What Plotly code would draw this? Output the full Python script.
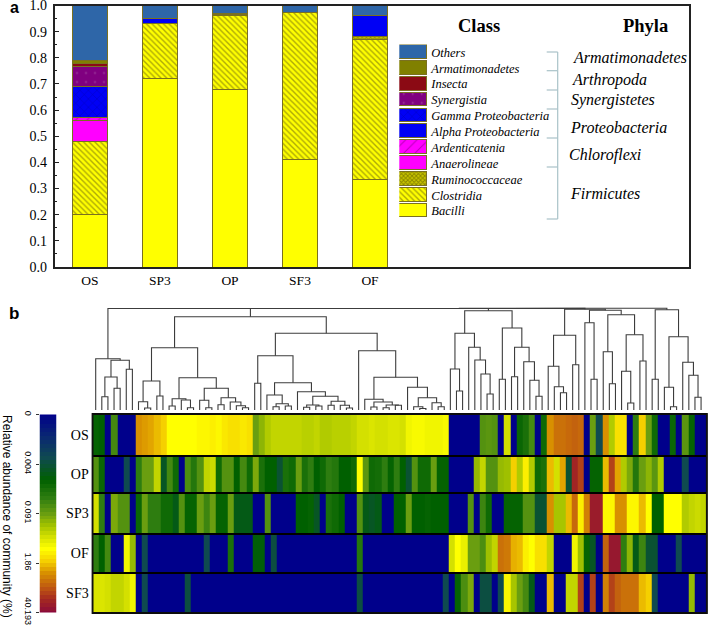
import plotly.graph_objects as go

W, H = 709, 626
SERIF = "Liberation Serif"
SANS = "Liberation Sans"

# ---------- panel a ----------
samples = ["OS", "SP3", "OP", "SF3", "OF"]
classes = ["Bacilli", "Clostridia", "Ruminococcaceae", "Anaerolineae", "Ardenticatenia",
           "Alpha Proteobacteria", "Gamma Proteobacteria", "Synergistia", "Insecta",
           "Armatimonadetes", "Others"]
bacilli = [0.20, 0.72, 0.68, 0.41, 0.333]
clostridia = [0.28, 0.21, 0.28, 0.562, 0.537]
ruminococcaceae = [0, 0, 0, 0, 0.01]
anaerolineae = [0.08, 0, 0, 0, 0]
ardenticatenia = [0.01, 0, 0, 0, 0]
alpha_proteo = [0, 0.02, 0.005, 0.002, 0.08]
gamma_proteo = [0.12, 0, 0.005, 0, 0]
synergistia = [0.075, 0, 0, 0, 0]
insecta = [0.015, 0, 0, 0, 0]
armatimonadetes = [0.01, 0, 0, 0, 0]
others = [0.21, 0.05, 0.03, 0.026, 0.04]
class_values = [bacilli, clostridia, ruminococcaceae, anaerolineae, ardenticatenia,
                alpha_proteo, gamma_proteo, synergistia, insecta, armatimonadetes, others]
class_colors = ["#ffff00", "#ffff00", "#c8c400", "#ff00ff", "#ff00ff", "#0000f5", "#0000f5",
                "#800080", "#8b0a14", "#808000", "#2e66a8"]
class_patterns = ["", "\\", "x", "", "/", "", "x", ".", "", "", ""]
pattern_fg = ["#000000", "#5c5410", "#4a4600", "#000000", "#700070", "#000000", "#00008a",
              "#c080c0", "#000000", "#000000", "#000000"]
pattern_size = [6, 4, 3, 6, 8, 6, 6, 9, 6, 6, 6]
pattern_solid = [0.2, 0.35, 0.5, 0.2, 0.12, 0.2, 0.15, 0.03, 0.2, 0.2, 0.2]
y_tick_values = [0.0, 0.1, 0.2, 0.3, 0.4, 0.5, 0.6, 0.7, 0.8, 0.9, 1.0]
phyla = ["Armatimonadetes", "Arthropoda", "Synergistetes", "Proteobacteria", "Chloroflexi", "Firmicutes"]

# ---------- panel b ----------
heat_rows = ["OS", "OP", "SP3", "OF", "SF3"]
row_edges = [0, 41.7, 79, 119.7, 159.3, 199]
os_row = [34, 33, 0, 45, 0, 0, 0, 80, 79, 78, 76, 74, 68, 68, 68, 68, 68, 69, 69, 70,
          69, 71, 72, 72, 71, 72, 50, 54, 58, 60, 60, 60, 60, 60, 59, 59, 60, 58, 58, 59,
          59, 59, 60, 62, 62, 63, 62, 62, 63, 63, 62, 66, 67, 67, 66, 66, 66, 67, 0, 0,
          0, 0, 0, 47, 48, 47, 0, 62, 0, 35, 38, 45, 0, 36, 80, 84, 84, 85, 86, 85,
          0, 50, 22, 80, 58, 72, 72, 0, 42, 74, 50, 36, 0, 0, 35, 0, 48, 34, 0, 0]
op_row = [47, 35, 0, 0, 0, 22, 0, 42, 50, 50, 60, 28, 45, 36, 0, 46, 40, 47, 60, 61,
          36, 47, 47, 33, 45, 36, 52, 38, 33, 33, 26, 38, 36, 50, 38, 42, 33, 36, 42, 40,
          33, 33, 36, 68, 48, 36, 37, 42, 34, 42, 33, 26, 47, 36, 36, 50, 34, 34, 0, 0,
          0, 0, 55, 60, 47, 47, 55, 56, 74, 58, 70, 58, 36, 38, 76, 62, 78, 26, 94, 90,
          0, 34, 34, 76, 90, 78, 58, 52, 40, 50, 54, 48, 58, 0, 0, 0, 22, 0, 0, 0]
sp3_row = [62, 42, 0, 52, 47, 47, 0, 35, 50, 42, 42, 36, 36, 30, 47, 34, 34, 50, 44, 50,
           34, 34, 50, 30, 30, 30, 0, 0, 47, 0, 0, 0, 0, 33, 33, 34, 28, 0, 38, 36,
           33, 0, 0, 47, 30, 28, 30, 0, 0, 33, 33, 50, 33, 33, 34, 33, 33, 33, 0, 0,
           0, 47, 0, 44, 36, 0, 0, 34, 34, 34, 47, 47, 26, 26, 80, 57, 57, 76, 85, 70,
           82, 96, 96, 69, 69, 80, 80, 69, 69, 76, 68, 33, 33, 68, 68, 68, 58, 60, 61, 60]
of_row = [42, 33, 45, 0, 0, 66, 55, 0, 22, 0, 0, 0, 0, 0, 0, 0, 0, 0, 22, 0,
          0, 0, 38, 0, 0, 0, 32, 32, 0, 24, 0, 0, 0, 0, 0, 0, 0, 0, 0, 0,
          0, 0, 0, 40, 0, 0, 0, 0, 0, 0, 0, 0, 0, 0, 0, 0, 0, 0, 62, 68,
          65, 50, 50, 46, 56, 60, 84, 83, 77, 76, 70, 68, 72, 72, 60, 0, 0, 0, 66, 56,
          34, 28, 0, 86, 97, 97, 42, 54, 30, 44, 26, 26, 0, 0, 0, 22, 0, 0, 0, 0]
sf3_row = [63, 63, 62, 60, 60, 62, 66, 0, 22, 0, 0, 0, 0, 0, 0, 24, 0, 0, 0, 0,
           0, 0, 0, 0, 0, 0, 0, 0, 0, 0, 0, 0, 0, 0, 0, 0, 0, 0, 0, 0,
           0, 0, 0, 24, 0, 0, 0, 0, 0, 0, 0, 0, 0, 0, 0, 0, 0, 22, 0, 34,
           46, 52, 0, 24, 24, 0, 22, 69, 57, 50, 45, 30, 0, 0, 76, 0, 0, 60, 60, 90,
           0, 90, 0, 82, 90, 86, 84, 84, 84, 76, 74, 22, 0, 0, 0, 0, 0, 55, 0, 0]
heat_values = [os_row, op_row, sp3_row, of_row, sf3_row]

scale_stops = [0, 12, 22, 33, 42, 50, 56, 62, 68, 74, 80, 87, 93, 100]
scale_colors = ["#00008b", "#0a2a70", "#0f4a50", "#006000", "#2e7d10", "#6a9e10", "#9fc000",
                "#d4e000", "#ffff00", "#f5d000", "#d89000", "#c05a10", "#a52a20", "#8b0a3a"]
colorscale = [[s / 100, c] for s, c in zip(scale_stops, scale_colors)]
scale_levels = [0, 2, 4, 6, 8, 10, 12, 14, 16, 18, 20, 22, 24, 26, 28, 30, 32, 34, 36, 38, 40, 42, 44, 46, 48,
                50, 52, 54, 56, 58, 60, 62, 64, 66, 68, 70, 72, 74, 76, 78, 80, 82, 84, 86, 88, 90, 92, 94, 96, 98, 100]
scale_tick_levels = [0, 25, 50, 75, 100]
scale_tick_text = ["0", "0.004", "0.091", "1.86", "40.193"]

# dendrogram: (merge height, left, right); o is a leaf
o = None
clade_a = (51.3, o, (49.7, (33, (13.3, o, o), (21.7, o, o)), (40.7, o, o)))
clade_b = (62.3,
           (29, (8.3, o, (2, o, o)), (14, o, o)),
           (32.3,
            (11.3, (4, o, o), (10, o, (2.3, o, o))),
            (21.7, (9.7, o, (2.3, o, o)),
             (12.3, (5.3, o, o), (8, o, (4.3, o, (2.3, o, o)))))))
clade_c = (54.3, (26.7, o, o),
           (27.3,
            (15, o, (6.3, (3.3, o, o), (4, o, o))),
            (18.3, o, (13.7, (5, (2.7, o, o), (4, o, o)),
                       (8.7, (4.7, o, o), (4.7, o, (2, o, o)))))))
clade_d = (59.3, o,
           (32.7,
            (10.7, o, (8, (3, o, o), (5, (2.3, o, o), (4.7, o, o)))),
            (22.7, o, (12.3, (3.3, o, (1.5, o, o)), (7.3, o, (3.3, o, o))))))
clade_main = (93.3, clade_b, (76.7, clade_c, clade_d))
clade_e = (99.3,
           (76.7, (41, o, (19, o, o)), (62.7, o, (50, o, (36, o, (16, o, o))))),
           (82, (30.7, o, o), (62.7, (33.3, o, o), (48.3, o, (29.7, o, (13.7, o, o))))))
clade_f = (74.7, (43.7, o, (23.3, o, (17.3, o, o))), (45.3, o, o))
clade_g = (87.3, o, (30.7, o, o))
clade_h = (95.3, (58.3, o, (26.3, o, o)),
           (75.3, (38.7, o, (7, o, o)), (49, o, o)))
clade_i = (100.3, (30.7, o, o),
           (73.3, (22.7, o, (3.3, o, o)), (47.7, o, (34.7, o, (12.7, o, o)))))
dendrogram = (101.8,
              (101.6, (101.5, (101.5, clade_a, clade_main), clade_e),
               (100.7, clade_f, (99.7, clade_g, clade_h))),
              clade_i)

dx_lines, dy_lines = [], []
leaf_counter = [0]


def walk(node):
    if node is None:
        pos = leaf_counter[0]
        leaf_counter[0] += 1
        return pos, 0
    h, left, right = node
    lx, lh = walk(left)
    rx, rh = walk(right)
    dx_lines.extend([lx, lx, rx, rx, None])
    dy_lines.extend([lh, h, h, rh, None])
    return (lx + rx) / 2, h


walk(dendrogram)


def hdom(a, b):
    return [a / W, b / W]


def vdom(top, bottom):
    return [1 - bottom / H, 1 - top / H]


fig = go.Figure()

# stacked bars
for name, vals, col, pat, fg, sz, sol in zip(classes, class_values, class_colors, class_patterns,
                                             pattern_fg, pattern_size, pattern_solid):
    fig.add_trace(go.Bar(x=samples, y=vals, name=name, width=0.507, showlegend=False,
                         marker=dict(color=col, line=dict(color="#7a7020", width=1),
                                     pattern=dict(shape=pat, fgcolor=fg, size=sz, solidity=sol,
                                                  bgcolor=col)),
                         xaxis="x", yaxis="y"))

# legend swatches, drawn as one-row bars with the class names as tick labels
for name, col, pat, fg, sz, sol in zip(classes, class_colors, class_patterns, pattern_fg,
                                       pattern_size, pattern_solid):
    fig.add_trace(go.Bar(x=[1], y=[name], orientation="h", width=0.86, showlegend=False,
                         marker=dict(color=col, line=dict(color="#7a7020", width=1),
                                     pattern=dict(shape=pat, fgcolor=fg, size=sz, solidity=sol,
                                                  bgcolor=col)),
                         xaxis="x2", yaxis="y2"))

# dendrogram
fig.add_trace(go.Scatter(x=dx_lines, y=dy_lines, mode="lines", showlegend=False,
                         line=dict(color="#3c3c3c", width=1.1), xaxis="x3", yaxis="y3"))

# heatmap
fig.add_trace(go.Heatmap(z=heat_values, y=row_edges, colorscale=colorscale, zmin=0, zmax=100,
                         showscale=False, ygap=2, xaxis="x4", yaxis="y4"))

# colour scale
fig.add_trace(go.Heatmap(z=[[v] for v in scale_levels], y=scale_levels, colorscale=colorscale,
                         zmin=0, zmax=100, showscale=False, xaxis="x5", yaxis="y5"))

row_mid = [(a + b) / 2 for a, b in zip(row_edges[:-1], row_edges[1:])]
AX = "#222222"

fig.update_layout(
    width=W, height=H, margin=dict(l=0, r=0, t=0, b=0, autoexpand=False), paper_bgcolor="white",
    plot_bgcolor="white",
    barmode="stack", bargap=0, font=dict(family=SERIF, color="black"),
    xaxis=dict(domain=hdom(54.5, 689), type="category", range=[-0.507, 8.557], showgrid=False, ticks="",
               tickfont=dict(size=13.5, family=SERIF), showline=True, linewidth=1.6, linecolor=AX,
               mirror=True, anchor="y"),
    yaxis=dict(domain=vdom(5.5, 267), range=[0, 1], tickvals=y_tick_values,
               ticktext=["%.1f" % v for v in y_tick_values], ticks="inside", ticklen=5, tickwidth=1.2,
               tickcolor=AX, showgrid=False, zeroline=False, tickfont=dict(size=14, family=SERIF),
               minor=dict(dtick=0.05, ticks="inside", ticklen=3, tickwidth=1, tickcolor=AX, showgrid=False),
               showline=True, linewidth=1.6, linecolor=AX, mirror=True, ticklabelstandoff=3,
               ticklabeloverflow="allow", anchor="x"),
    xaxis2=dict(domain=hdom(399.3, 427.3), range=[0, 1], visible=False, anchor="y2"),
    yaxis2=dict(domain=vdom(44.4, 219), type="category", categoryorder="array", categoryarray=classes,
                side="right", ticks="", showgrid=False, showline=False, zeroline=False,
                tickvals=classes, ticktext=["<i>%s</i>" % c for c in classes],
                tickfont=dict(size=12.5, family=SERIF), ticklabelstandoff=3, anchor="x2"),
    xaxis3=dict(domain=hdom(92.7, 706.7), range=[-0.49, 99.92], visible=False, anchor="y3"),
    yaxis3=dict(domain=vdom(300, 410), range=[0, 110], visible=False, anchor="x3"),
    xaxis4=dict(domain=hdom(92.7, 706.7), range=[-0.5, 99.5], visible=False, anchor="y4"),
    yaxis4=dict(domain=vdom(414, 613), range=[199, 0], tickvals=row_mid, ticktext=heat_rows, ticks="",
                tickfont=dict(size=14, family=SERIF), showgrid=False, zeroline=False,
                ticklabelstandoff=3, anchor="x4"),
    xaxis5=dict(domain=hdom(39.5, 56.5), range=[-0.5, 0.5], visible=False, anchor="y5"),
    yaxis5=dict(domain=vdom(414.5, 612.5), range=[100, 0], tickvals=scale_tick_levels,
                ticktext=scale_tick_text, tickangle=90, ticks="outside", ticklen=3, tickwidth=1,
                tickcolor="#333333", tickfont=dict(size=9, family=SANS), showgrid=False, zeroline=False,
                showline=False, ticklabeloverflow="allow", anchor="x5"),
)
# heatmap black backing: separators between rows
fig.add_shape(type="rect", xref="x4 domain", yref="y4 domain", x0=0, x1=1, y0=0, y1=1,
              fillcolor="black", line=dict(color="black", width=2), layer="below")
fig.add_shape(type="rect", xref="x4 domain", yref="y4 domain", x0=0, x1=1, y0=0, y1=1,
              line=dict(color="#111111", width=1.6), layer="above")


def ann(text, px, py, size, family=SERIF, anchor="center", angle=0):
    fig.add_annotation(text=text, x=px / W, y=1 - py / H, xref="paper", yref="paper", showarrow=False,
                       xanchor=anchor, yanchor="middle", textangle=angle,
                       font=dict(size=size, family=family, color="black"))


ann("<b>a</b>", 14, 8, 16, SANS)
ann("<b>b</b>", 14, 313, 17, SANS)
ann("<b>Class</b>", 479, 26, 18.5)
ann("<b>Phyla</b>", 645, 26, 18.5)
for name, px, py in zip(phyla, [571, 570, 569, 568, 567, 568], [57, 80, 100, 127, 155, 194]):
    ann("<i>%s</i>" % name, px, py, 16, anchor="left")
ann("Relative abundance of community (%)", 7, 516, 12, SANS, angle=90)

# phylum brackets
BR = dict(color="#a9c2c8", width=1.2)
for top, bottom in [(52, 70.7), (70.7, 90), (90, 109), (109, 138), (138, 167), (167, 219)]:
    fig.add_shape(type="line", xref="paper", yref="paper", x0=546.7 / W, x1=557.7 / W,
                  y0=1 - top / H, y1=1 - top / H, line=BR)
    fig.add_shape(type="line", xref="paper", yref="paper", x0=557.7 / W, x1=557.7 / W,
                  y0=1 - top / H, y1=1 - bottom / H, line=BR)
fig.add_shape(type="line", xref="paper", yref="paper", x0=546.7 / W, x1=557.7 / W,
              y0=1 - 219 / H, y1=1 - 219 / H, line=BR)

fig.write_html("out.html", config={"displayModeBar": False},
               post_script="document.body.style.margin='0';")
